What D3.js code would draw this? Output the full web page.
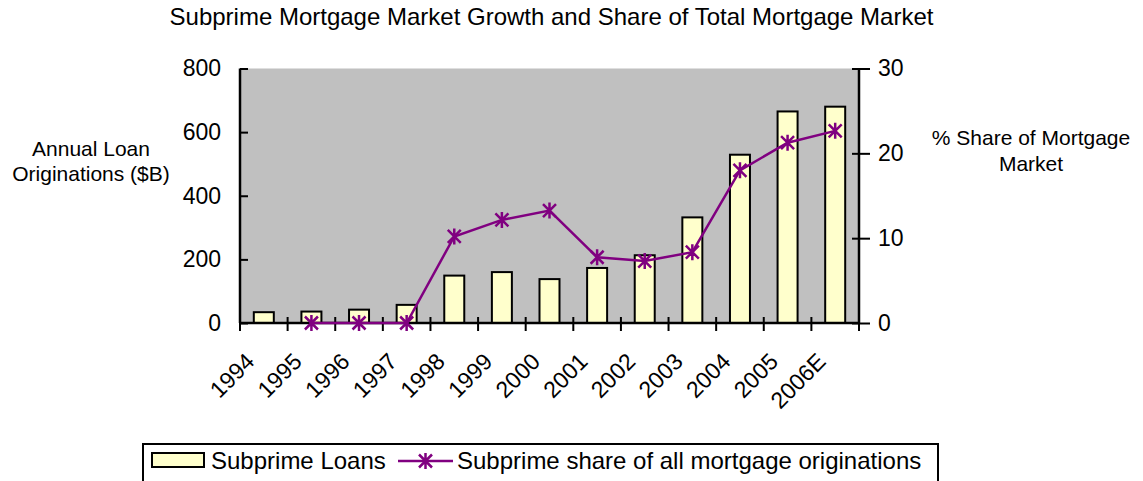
<!DOCTYPE html>
<html>
<head>
<meta charset="utf-8">
<script src="https://cdn.jsdelivr.net/npm/d3@7"></script>
<style>
  html, body { margin: 0; padding: 0; background: #fff; }
  svg { display: block; font-family: "Liberation Sans", Arial, sans-serif; }
</style>
</head>
<body>
<svg id="chart" width="1143" height="481"></svg>
<script>
// ---- data ----
const categories = ["1994","1995","1996","1997","1998","1999","2000","2001","2002","2003","2004","2005","2006E"];
const subprimeLoans = [34, 36, 42, 57, 149, 160, 138, 173, 213, 332, 529, 665, 680];
const subprimeShare = [null, 0, 0, 0, 10.2, 12.15, 13.25, 7.75, 7.3, 8.35, 18.0, 21.25, 22.65];
const leftTicks = [0, 200, 400, 600, 800];
const rightTicks = [0, 10, 20, 30];
const titleText = "Subprime Mortgage Market Growth and Share of Total Mortgage Market";
const leftTitle = ["Annual Loan", "Originations ($B)"];
const rightTitle = ["% Share of Mortgage", "Market"];
const legendLabels = ["Subprime Loans", "Subprime share of all mortgage originations"];

// ---- layout ----
const plot = { left: 240, right: 859, top: 68.5, bottom: 323 };
const svg = d3.select("#chart");

const x = d3.scaleBand().domain(categories).range([plot.left, plot.right]).padding(0);
const y = d3.scaleLinear().domain([0, 800]).range([plot.bottom, plot.top]);
const y2 = d3.scaleLinear().domain([0, 30]).range([plot.bottom, plot.top]);

// plot background
svg.append("rect")
  .attr("x", plot.left).attr("y", plot.top)
  .attr("width", plot.right - plot.left).attr("height", plot.bottom - plot.top)
  .attr("fill", "#C0C0C0");

// bars
const bw = x.bandwidth() * 0.42;
svg.append("g").selectAll("rect")
  .data(categories.map((c, i) => ({ c, v: subprimeLoans[i] })))
  .join("rect")
  .attr("x", d => x(d.c) + (x.bandwidth() - bw) / 2)
  .attr("y", d => y(d.v))
  .attr("width", bw)
  .attr("height", d => y(0) - y(d.v))
  .attr("fill", "#FFFFCC")
  .attr("stroke", "#000")
  .attr("stroke-width", 2);

// left axis
const gL = svg.append("g").attr("transform", `translate(${plot.left},0)`)
  .call(d3.axisLeft(y).tickValues(leftTicks).tickSize(8).tickPadding(11).tickFormat(d3.format("d")));
gL.selectAll(".tick line").attr("x2", 8).attr("stroke-width", 2);
gL.select(".domain").attr("stroke-width", 2.5).attr("d", `M0,${plot.top}V${plot.bottom}`);
gL.selectAll("text").attr("font-size", 23).attr("fill", "#000").attr("font-family", "Liberation Sans, Arial, sans-serif");

// right axis
const gR = svg.append("g").attr("transform", `translate(${plot.right},0)`)
  .call(d3.axisRight(y2).tickValues(rightTicks).tickSize(11).tickPadding(8).tickFormat(d3.format("d")));
gR.selectAll(".tick line").attr("x1", -7).attr("stroke-width", 2);
gR.select(".domain").attr("stroke-width", 2.5).attr("d", `M0,${plot.top}V${plot.bottom}`);
gR.selectAll("text").attr("font-size", 23).attr("fill", "#000").attr("font-family", "Liberation Sans, Arial, sans-serif");

// bottom axis (ticks at category boundaries)
const boundaries = categories.map(c => x(c)).concat([x.range()[1]]);
const gB = svg.append("g");
gB.append("line")
  .attr("x1", plot.left).attr("x2", plot.right)
  .attr("y1", plot.bottom).attr("y2", plot.bottom)
  .attr("stroke", "#000").attr("stroke-width", 2.5);
gB.selectAll("line.tk").data(boundaries).join("line").attr("class", "tk")
  .attr("x1", d => d).attr("x2", d => d)
  .attr("y1", plot.bottom - 6).attr("y2", plot.bottom + 8)
  .attr("stroke", "#000").attr("stroke-width", 2);
gB.selectAll("text").data(categories).join("text")
  .attr("transform", d => `translate(${x(d) + x.bandwidth() / 2 - 8},${plot.bottom + 40}) rotate(-45)`)
  .attr("text-anchor", "end")
  .attr("font-size", 23)
  .text(d => d);

// line series
const pts = categories.map((c, i) => ({ c, v: subprimeShare[i] }));
const line = d3.line()
  .defined(d => d.v !== null)
  .x(d => x(d.c) + x.bandwidth() / 2)
  .y(d => y2(d.v));
svg.append("path")
  .datum(pts)
  .attr("d", line)
  .attr("fill", "none")
  .attr("stroke", "#800080")
  .attr("stroke-width", 2.5);

const starPath = "M0,-8V8M-6.5,-6.5L6.5,6.5M-6.5,6.5L6.5,-6.5";
svg.append("g").selectAll("path")
  .data(pts.filter(d => d.v !== null))
  .join("path")
  .attr("transform", d => `translate(${x(d.c) + x.bandwidth() / 2},${y2(d.v)})`)
  .attr("d", starPath)
  .attr("fill", "none")
  .attr("stroke", "#800080")
  .attr("stroke-width", 2.5);

// title
svg.append("text")
  .attr("x", 551.5).attr("y", 25)
  .attr("text-anchor", "middle")
  .attr("font-size", 24)
  .text(titleText);

// axis titles
svg.append("text").attr("text-anchor", "middle").attr("font-size", 21)
  .selectAll("tspan").data(leftTitle).join("tspan")
  .attr("x", 91).attr("y", (d, i) => 156 + i * 25).text(d => d);
svg.append("text").attr("text-anchor", "middle").attr("font-size", 21)
  .selectAll("tspan").data(rightTitle).join("tspan")
  .attr("x", 1031).attr("y", (d, i) => 145 + i * 26).text(d => d);

// legend
const lg = svg.append("g");
lg.append("rect")
  .attr("x", 143).attr("y", 444).attr("width", 795).attr("height", 60)
  .attr("fill", "#fff").attr("stroke", "#000").attr("stroke-width", 2);
lg.append("rect")
  .attr("x", 152).attr("y", 453).attr("width", 52).attr("height", 14)
  .attr("fill", "#FFFFCC").attr("stroke", "#000").attr("stroke-width", 2);
lg.append("text").attr("x", 211).attr("y", 469).attr("font-size", 24).text(legendLabels[0]);
lg.append("line")
  .attr("x1", 398).attr("x2", 453).attr("y1", 461).attr("y2", 461)
  .attr("stroke", "#800080").attr("stroke-width", 2.5);
lg.append("path")
  .attr("transform", "translate(425.5,461)")
  .attr("d", starPath)
  .attr("fill", "none").attr("stroke", "#800080").attr("stroke-width", 2.5);
lg.append("text").attr("x", 457).attr("y", 469).attr("font-size", 24).text(legendLabels[1]);
</script>
</body>
</html>
